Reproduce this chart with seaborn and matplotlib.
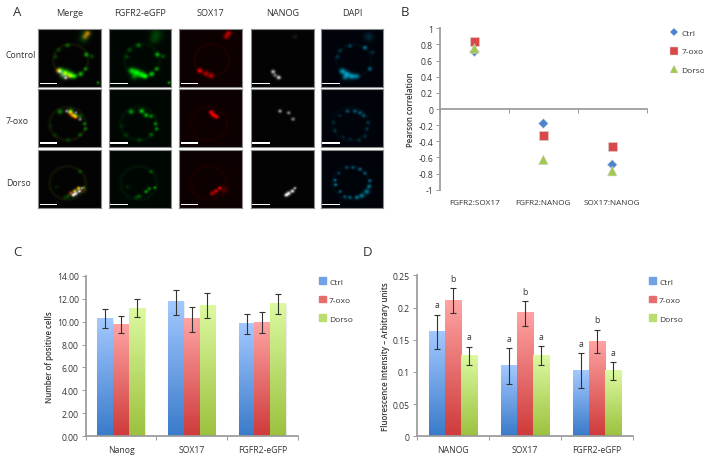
import numpy as np
import pandas as pd
import matplotlib
matplotlib.use('Agg')
import matplotlib.pyplot as plt
from matplotlib.patches import Rectangle
from matplotlib.lines import Line2D
import seaborn as sns

series = ['Ctrl', '7-oxo', 'Dorso']
face = {'Ctrl': '#4f81bd', '7-oxo': '#c0504d', 'Dorso': '#9bbb59'}
grad_top = {'Ctrl': '#a3c8ff', '7-oxo': '#ffa3a3', 'Dorso': '#dcf9a0'}
grad_bot = {'Ctrl': '#3a7bca', '7-oxo': '#ce3b3a', 'Dorso': '#9cc13e'}

# panel B
pairs = ['FGFR2:SOX17', 'FGFR2:NANOG', 'SOX17:NANOG']
pearson_ctrl = [0.71, -0.18, -0.69]
pearson_oxo = [0.84, -0.33, -0.46]
pearson_dorso = [0.75, -0.63, -0.77]

# panel C
cell_groups = ['Nanog', 'SOX17', 'FGFR2-eGFP']
cells_ctrl = [10.25, 11.7, 9.8]
cells_oxo = [9.75, 10.2, 9.9]
cells_dorso = [11.15, 11.4, 11.55]
cells_ctrl_err = [0.82, 1.09, 0.89]
cells_oxo_err = [0.78, 1.07, 0.9]
cells_dorso_err = [0.78, 1.05, 0.87]

# panel D
fluo_groups = ['NANOG', 'SOX17', 'FGFR2-eGFP']
fluo_ctrl = [0.162, 0.109, 0.102]
fluo_oxo = [0.211, 0.191, 0.147]
fluo_dorso = [0.125, 0.125, 0.101]
fluo_ctrl_err = [0.027, 0.028, 0.027]
fluo_oxo_err = [0.019, 0.019, 0.018]
fluo_dorso_err = [0.014, 0.015, 0.014]
fluo_letters = [['a', 'a', 'a'], ['b', 'b', 'b'], ['a', 'a', 'a']]

# panel A, micrographs as soft spots: (x, y, brightness, size) in image fractions
channels = ['Merge', 'FGFR2-eGFP', 'SOX17', 'NANOG', 'DAPI']
treatments = ['Control', '7-oxo', 'Dorso']
treatment_y = [55, 122, 183]
rings = [(0.52, 0.54, 0.28), (0.47, 0.60, 0.29), (0.47, 0.57, 0.29)]

control_green = [(0.47, 0.28, 0.5, 0.02), (0.77, 0.44, 0.8, 0.02), (0.76, 0.69, 0.7, 0.018),
                 (0.68, 0.78, 0.9, 0.022), (0.36, 0.72, 0.9, 0.028), (0.44, 0.75, 1.0, 0.03),
                 (0.52, 0.79, 1.0, 0.03), (0.58, 0.82, 1.0, 0.022), (0.40, 0.82, 0.5, 0.03),
                 (0.96, 0.93, 0.7, 0.014), (0.76, 0.08, 0.25, 0.05), (0.72, 0.18, 0.2, 0.04),
                 (0.28, 0.48, 0.3, 0.018), (0.33, 0.36, 0.3, 0.018), (0.86, 0.47, 0.4, 0.018)]
control_red = [(0.33, 0.72, 1.0, 0.022), (0.43, 0.77, 0.7, 0.024), (0.51, 0.81, 0.7, 0.024),
               (0.79, 0.07, 0.8, 0.024), (0.75, 0.13, 0.6, 0.024)]
control_white = [(0.35, 0.74, 0.8, 0.018), (0.38, 0.80, 0.5, 0.016), (0.44, 0.84, 0.9, 0.018),
                 (0.70, 0.13, 0.1, 0.02)]
control_cyan = [(0.34, 0.73, 0.9, 0.026), (0.41, 0.78, 0.9, 0.028), (0.49, 0.82, 0.9, 0.028),
                (0.57, 0.82, 0.7, 0.024), (0.38, 0.84, 0.6, 0.024), (0.70, 0.32, 0.7, 0.018),
                (0.78, 0.69, 0.6, 0.018), (0.46, 0.29, 0.4, 0.018), (0.26, 0.48, 0.3, 0.018),
                (0.30, 0.37, 0.3, 0.018), (0.76, 0.13, 0.25, 0.04), (0.82, 0.40, 0.3, 0.018)]

oxo_green = [(0.35, 0.39, 0.7, 0.022), (0.52, 0.38, 0.9, 0.022), (0.59, 0.45, 0.8, 0.02),
             (0.67, 0.47, 0.6, 0.018), (0.74, 0.60, 0.6, 0.016), (0.76, 0.69, 0.6, 0.016),
             (0.67, 0.79, 0.4, 0.018), (0.48, 0.88, 0.25, 0.02), (0.27, 0.80, 0.2, 0.02),
             (0.20, 0.64, 0.12, 0.02)]
oxo_red = [(0.51, 0.40, 1.0, 0.02), (0.55, 0.45, 1.0, 0.02), (0.60, 0.48, 1.0, 0.018)]
oxo_white = [(0.46, 0.38, 0.65, 0.016), (0.60, 0.41, 0.55, 0.016), (0.67, 0.52, 0.55, 0.016)]
oxo_cyan = [(0.42, 0.38, 0.5, 0.018), (0.54, 0.38, 0.55, 0.018), (0.62, 0.41, 0.55, 0.018),
            (0.68, 0.46, 0.5, 0.018), (0.73, 0.69, 0.3, 0.016), (0.70, 0.82, 0.3, 0.016),
            (0.61, 0.89, 0.3, 0.016), (0.46, 0.87, 0.2, 0.016), (0.22, 0.72, 0.3, 0.016),
            (0.20, 0.58, 0.25, 0.016), (0.30, 0.46, 0.25, 0.016), (0.75, 0.58, 0.3, 0.016),
            (0.35, 0.83, 0.2, 0.016)]

dorso_green = [(0.67, 0.37, 0.4, 0.016), (0.73, 0.65, 0.8, 0.012), (0.64, 0.67, 0.6, 0.016),
               (0.59, 0.72, 0.7, 0.016), (0.48, 0.80, 0.4, 0.018), (0.43, 0.82, 0.3, 0.016),
               (0.29, 0.64, 0.15, 0.018)]
dorso_red = [(0.65, 0.66, 1.0, 0.016), (0.59, 0.71, 0.9, 0.018), (0.53, 0.75, 0.75, 0.02),
             (0.72, 0.69, 0.25, 0.03)]
dorso_white = [(0.70, 0.66, 0.8, 0.012), (0.66, 0.71, 1.0, 0.016), (0.60, 0.75, 1.0, 0.018),
               (0.56, 0.78, 1.0, 0.016)]
dorso_cyan = [(0.41, 0.30, 0.4, 0.016), (0.51, 0.30, 0.5, 0.016), (0.62, 0.33, 0.6, 0.016),
              (0.70, 0.40, 0.5, 0.016), (0.78, 0.53, 0.6, 0.016), (0.77, 0.63, 0.7, 0.018),
              (0.73, 0.72, 0.7, 0.024), (0.65, 0.79, 0.7, 0.022), (0.57, 0.82, 0.7, 0.018),
              (0.46, 0.82, 0.6, 0.016), (0.38, 0.81, 0.5, 0.016), (0.30, 0.72, 0.6, 0.014),
              (0.23, 0.60, 0.8, 0.014), (0.22, 0.52, 0.7, 0.014), (0.28, 0.40, 0.4, 0.014)]

green_spots = [control_green, oxo_green, dorso_green]
red_spots = [control_red, oxo_red, dorso_red]
white_spots = [control_white, oxo_white, dorso_white]
cyan_spots = [control_cyan, oxo_cyan, dorso_cyan]

# pixel boxes of the micrographs
col_x = [(38.3, 100.7), (108.7, 171.3), (179.3, 242), (251, 313.7), (320.7, 383.3)]
row_y = [(30.3, 88), (90.3, 147.7), (151, 209)]

W, H = 704, 460
sns.set_theme(style='white')
plt.rcParams['font.family'] = ['Open Sans', 'DejaVu Sans']
txt = '#333333'
plt.rcParams['text.color'] = txt
fig = plt.figure(figsize=(W / 100, H / 100), dpi=100)
fig.patch.set_facecolor('white')

tick_fs = 6.2
label_fs = 5.7
legend_fs = 6.0


def px_axes(l, t, r, b):
    return fig.add_axes([l / W, 1 - b / H, (r - l) / W, (b - t) / H])


def px_text(x, y, s, **kw):
    kw.setdefault('ha', 'center')
    kw.setdefault('va', 'center')
    fig.text(x / W, 1 - y / H, s, **kw)


def spots_image(spots, ring=None, ring_amp=0.0, gain=1.0, n=90):
    yy, xx = np.mgrid[0:1:n * 1j, 0:1:n * 1j]
    img = np.zeros((n, n))
    for x, y, a, s in spots:
        s = s * 1.3  # the reference micrographs are quite soft
        img += a * gain * np.exp(-((xx - x) ** 2 + (yy - y) ** 2) / (2 * s ** 2))
    if ring is not None:
        d = np.hypot(xx - ring[0], yy - ring[1])
        img += ring_amp * np.exp(-((d - ring[2]) ** 2) / (2 * 0.018 ** 2))
    return np.clip(img, 0, 1)


def rgb(r, g, b, bg=(0.012, 0.012, 0.012)):
    return np.clip(np.dstack([r + bg[0], g + bg[1], b + bg[2]]), 0, 1)


# panel A
for i, treat in enumerate(treatments):
    ring = rings[i]
    g = spots_image(green_spots[i], ring, 0.05, gain=0.8)
    r = spots_image(red_spots[i], ring, 0.05, gain=0.9)
    w = spots_image(white_spots[i], gain=0.9)
    c = spots_image(cyan_spots[i], ring, 0.03, gain=0.7)
    zero = np.zeros_like(g)
    pics = [rgb(np.maximum(r, w), np.maximum(g * 0.85 + r * 0.45, w), w * 0.9),
            rgb(zero, g, zero, (0.0, 0.03, 0.012)),
            rgb(r, zero, zero, (0.05, 0.0, 0.0)),
            rgb(w, w, w),
            rgb(zero, c * 0.85, c, (0.0, 0.012, 0.04))]
    for j, pic in enumerate(pics):
        ax = px_axes(col_x[j][0], row_y[i][0], col_x[j][1], row_y[i][1])
        ax.imshow(pic, extent=[0, 1, 1, 0], aspect='auto', interpolation='bilinear')
        ax.add_patch(Rectangle((0.02, 0.925), 0.285, 0.022, color='white', lw=0))
        ax.set_xticks([])
        ax.set_yticks([])
        for sp in ax.spines.values():
            sp.set_color('#8a8a8a')
            sp.set_linewidth(0.8)
    px_text(6, treatment_y[i], treat, ha='left', fontsize=6.3)

for j, name in enumerate(channels):
    px_text(sum(col_x[j]) / 2, 13.5, name, fontsize=6.6)

px_text(17, 12, 'A', fontsize=9.5)
px_text(405, 12, 'B', fontsize=9.5)
px_text(17, 253, 'C', fontsize=9.5)
px_text(367, 253, 'D', fontsize=9.5)

# panel B
df_b = pd.DataFrame({
    'pair': pairs * 3,
    'series': [s for s in series for _ in pairs],
    'value': pearson_ctrl + pearson_oxo + pearson_dorso,
})
ax_b = px_axes(440, 29.3, 646.7, 190.7)
marker_colors = {'Ctrl': '#4a84cf', '7-oxo': '#d9494a', 'Dorso': '#a2c84e'}
sns.scatterplot(data=df_b, x='pair', y='value', hue='series', style='series', size='series',
                hue_order=series, style_order=series, size_order=series,
                palette=marker_colors,
                markers={'Ctrl': 'D', '7-oxo': 's', 'Dorso': '^'},
                sizes={'Ctrl': 25, '7-oxo': 44, 'Dorso': 48},
                edgecolor='#d8d8d8', linewidth=0.4, legend=False, ax=ax_b, zorder=3)
ax_b.set_xlim(-0.5, 2.5)
ax_b.set_ylim(-1, 1)
ax_b.set_yticks(np.arange(-1, 1.01, 0.2))
ax_b.set_yticklabels(['-1', '-0.8', '-0.6', '-0.4', '-0.2', '0', '0.2', '0.4', '0.6', '0.8', '1'])
ax_b.set_xticks([0, 1, 2])
ax_b.set_xticklabels(pairs)
ax_b.set_xticks([-0.5, 0.5, 1.5, 2.5], minor=True)
ax_b.set_xlabel('')
ax_b.set_ylabel('Pearson correlation', fontsize=label_fs, fontweight='semibold', labelpad=2, color=txt)
ax_b.spines['top'].set_visible(False)
ax_b.spines['right'].set_visible(False)
ax_b.spines['left'].set_color('#9a9a9a')
ax_b.spines['bottom'].set_position(('data', 0))
ax_b.spines['bottom'].set_color('#9a9a9a')
ax_b.tick_params(axis='y', length=3, width=0.7, color='#9a9a9a', labelsize=tick_fs, pad=2, labelcolor=txt, left=True)
ax_b.tick_params(axis='x', which='major', length=0, labelbottom=False)
ax_b.tick_params(axis='x', which='minor', length=3, width=0.7, color='#9a9a9a', bottom=True)
for k, p in enumerate(pairs):
    ax_b.text(k, -1.16, p, ha='center', va='center', fontsize=5.9, color=txt)

handles_b = [Line2D([], [], ls='', marker=m, ms=ms, mfc=marker_colors[s], mec='#d8d8d8', mew=0.3)
             for m, ms, s in zip(['D', 's', '^'], [4, 5.5, 5.5], series)]
ax_b.legend(handles_b, series, loc='center left', bbox_to_anchor=(666 / W, 1 - 52.5 / H),
            bbox_transform=fig.transFigure, frameon=False, fontsize=legend_fs, labelspacing=1.25,
            handletextpad=-0.15, borderpad=0, borderaxespad=0, labelcolor=txt)


def bar_panel(ax, groups, vals, errs, ymax, yticks, ylabels, ylabel, letters=None):
    df = pd.DataFrame({
        'group': groups * 3,
        'series': [s for s in series for _ in groups],
        'value': vals[0] + vals[1] + vals[2],
    })
    sns.barplot(data=df, x='group', y='value', hue='series', hue_order=series,
                palette=face, width=0.67, gap=0, errorbar=None, legend=False, ax=ax)
    ax.set_xlim(-0.5, 2.5)
    ax.set_ylim(0, ymax)
    bars = [p for p in ax.patches if p.get_height() > 0]
    bars = sorted(bars, key=lambda p: p.get_x())
    for n, p in enumerate(bars):
        g, s = n // 3, n % 3
        x0, w0, h0 = p.get_x(), p.get_width(), p.get_height()
        top = np.array(matplotlib.colors.to_rgb(grad_top[series[s]]))
        bot = np.array(matplotlib.colors.to_rgb(grad_bot[series[s]]))
        t = np.linspace(0, 1, 64)[:, None, None]
        ax.imshow(top[None, None, :] * (1 - t) + bot[None, None, :] * t,
                  extent=[x0, x0 + w0, 0, h0], aspect='auto', zorder=2)
        p.set_edgecolor('#e9ece6')
        p.set_linewidth(0.8)
        cx = x0 + w0 / 2
        ax.errorbar(cx, h0, yerr=errs[s][g], color='#333333', lw=0.8, capsize=2.2,
                    capthick=0.8, zorder=4)
        if letters is not None:
            ax.annotate(letters[s][g], (cx, h0 + errs[s][g]), xytext=(0, 4),
                        textcoords='offset points', ha='center', va='bottom',
                        fontsize=6.2, color=txt)
    ax.set_xlim(-0.5, 2.5)
    ax.set_ylim(0, ymax)
    ax.set_yticks(yticks)
    ax.set_yticklabels(ylabels)
    ax.set_xticks([0, 1, 2])
    ax.set_xticklabels(groups)
    ax.set_xticks([-0.5, 0.5, 1.5, 2.5], minor=True)
    ax.set_xlabel('')
    ax.set_ylabel(ylabel, fontsize=label_fs, fontweight='semibold', labelpad=2, color=txt)
    ax.spines['top'].set_visible(False)
    ax.spines['right'].set_visible(False)
    ax.spines['left'].set_color('#9a9a9a')
    ax.spines['bottom'].set_color('#9a9a9a')
    ax.tick_params(axis='y', length=3, width=0.7, color='#9a9a9a', labelsize=tick_fs, pad=2, labelcolor=txt, left=True)
    ax.tick_params(axis='x', which='major', length=0, labelsize=tick_fs, pad=6, labelcolor=txt)
    ax.tick_params(axis='x', which='minor', length=3, width=0.7, color='#9a9a9a', bottom=True)


# panel C
ax_c = px_axes(85.7, 276.7, 297.7, 437.3)
c_ticks = [0, 2, 4, 6, 8, 10, 12, 14]
bar_panel(ax_c, cell_groups, [cells_ctrl, cells_oxo, cells_dorso],
          [cells_ctrl_err, cells_oxo_err, cells_dorso_err], 14, c_ticks,
          ['%.2f' % v for v in c_ticks], 'Number of positive cells')

# panel D
ax_d = px_axes(416.7, 276.3, 633.3, 437.3)
d_ticks = [0, 0.05, 0.1, 0.15, 0.2, 0.25]
bar_panel(ax_d, fluo_groups, [fluo_ctrl, fluo_oxo, fluo_dorso],
          [fluo_ctrl_err, fluo_oxo_err, fluo_dorso_err], 0.25, d_ticks,
          ['0', '0.05', '0.1', '0.15', '0.2', '0.25'],
          'Fluorescence Intensity \u2013 Arbitrary units', letters=fluo_letters)

# bar legends
for ax, lx in [(ax_c, 319), (ax_d, 649)]:
    handles = [Rectangle((0, 0), 1, 1, color=matplotlib.colors.to_hex(
        (np.array(matplotlib.colors.to_rgb(grad_top[s])) + np.array(matplotlib.colors.to_rgb(grad_bot[s]))) / 2))
        for s in series]
    ax.legend(handles, series, loc='center left', bbox_to_anchor=(lx / W, 1 - 301 / H),
              bbox_transform=fig.transFigure, frameon=False, fontsize=legend_fs, labelspacing=1.25,
              handlelength=0.8, handleheight=0.8, handletextpad=0.4, borderpad=0,
              borderaxespad=0, labelcolor=txt)

fig.savefig('out.png', dpi=100)
